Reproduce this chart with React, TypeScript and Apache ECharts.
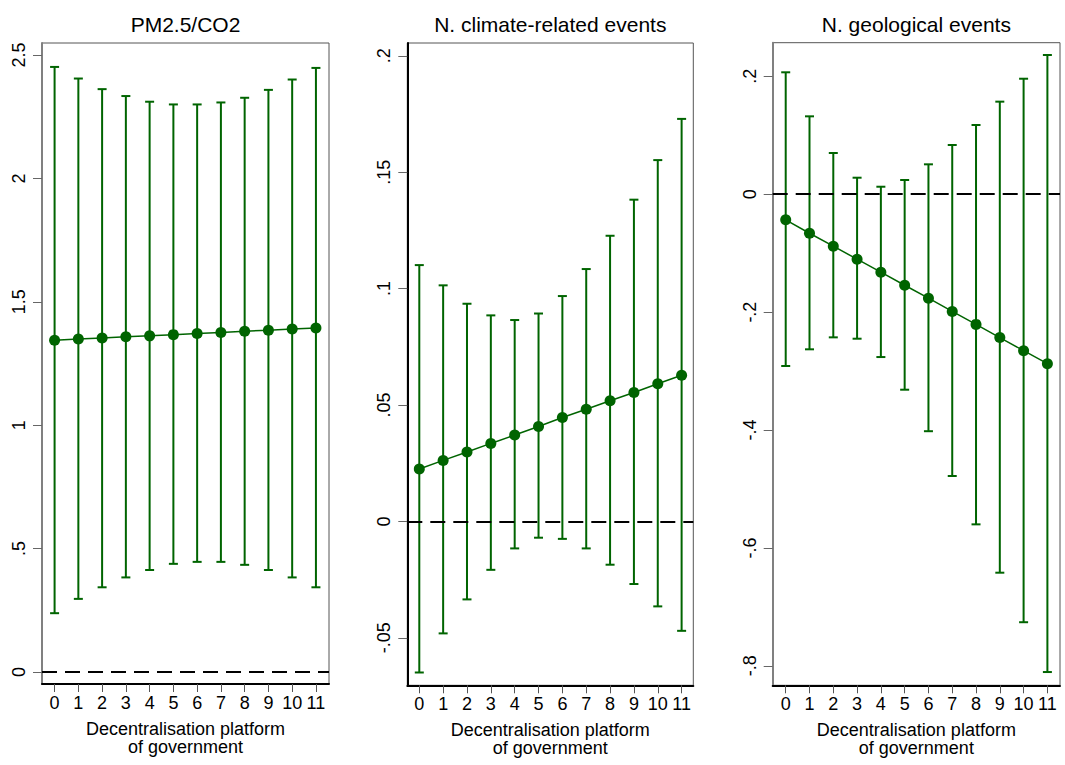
import React, { useEffect, useRef } from "react";
import * as echarts from "echarts";

const platforms = [0, 1, 2, 3, 4, 5, 6, 7, 8, 9, 10, 11];

const titles = ["PM2.5/CO2", "N. climate-related events", "N. geological events"];

const pmEst = [1.344, 1.349, 1.353, 1.358, 1.362, 1.367, 1.372, 1.376, 1.381, 1.385, 1.390, 1.394];
const pmHi = [2.452, 2.405, 2.362, 2.334, 2.311, 2.300, 2.300, 2.308, 2.327, 2.359, 2.401, 2.448];
const pmLo = [0.238, 0.296, 0.343, 0.383, 0.413, 0.438, 0.446, 0.446, 0.434, 0.413, 0.383, 0.343];

const clEst = [0.0225, 0.0262, 0.0298, 0.0335, 0.0371, 0.0408, 0.0446, 0.0482, 0.0518, 0.0554, 0.0591, 0.0628];
const clHi = [0.1101, 0.1014, 0.0935, 0.0885, 0.0865, 0.0893, 0.0968, 0.1084, 0.1227, 0.1382, 0.1552, 0.1729];
const clLo = [-0.0649, -0.0481, -0.0335, -0.0208, -0.0116, -0.007, -0.0075, -0.0116, -0.0186, -0.0269, -0.0365, -0.047];

const geoEst = [-0.0435, -0.0662, -0.0882, -0.1102, -0.1323, -0.1544, -0.1764, -0.1988, -0.2208, -0.2432, -0.2654, -0.2875];
const geoHi = [0.2068, 0.1321, 0.0699, 0.028, 0.0127, 0.0241, 0.0507, 0.0835, 0.1174, 0.157, 0.1959, 0.2361];
const geoLo = [-0.2914, -0.2631, -0.2428, -0.2451, -0.2762, -0.3316, -0.402, -0.478, -0.56, -0.642, -0.726, -0.8105];

const yTicks1 = [0, 0.5, 1, 1.5, 2, 2.5];
const yLabels1 = ["0", ".5", "1", "1.5", "2", "2.5"];
const yTicks2 = [-0.05, 0, 0.05, 0.1, 0.15, 0.2];
const yLabels2 = ["-.05", "0", ".05", ".1", ".15", ".2"];
const yTicks3 = [-0.8, -0.6, -0.4, -0.2, 0, 0.2];
const yLabels3 = ["-.8", "-.6", "-.4", "-.2", "0", ".2"];

const xTitle = "Decentralisation platform\nof government";

const GREEN = "#006400";
const FONT = "'Liberation Sans', Arial, Helvetica, sans-serif";

export default function App() {
  const ref = useRef<HTMLDivElement>(null);

  useEffect(() => {
    if (!ref.current) return;
    const chart = echarts.init(ref.current, undefined, { renderer: "svg" });

    const panels = [
      { est: pmEst, hi: pmHi, lo: pmLo, ticks: yTicks1, labels: yLabels1,
        grid: { left: 42, top: 43, width: 287, height: 641 },
        xMin: -0.53, xMax: 11.55, yMin: -0.049, yMax: 2.549, yLine: "#808080" },
      { est: clEst, hi: clHi, lo: clLo, ticks: yTicks2, labels: yLabels2,
        grid: { left: 407.3, top: 43, width: 286, height: 642.3 },
        xMin: -0.503, xMax: 11.49, yMin: -0.0704, yMax: 0.2055, yLine: "#000" },
      { est: geoEst, hi: geoHi, lo: geoLo, ticks: yTicks3, labels: yLabels3,
        grid: { left: 772.7, top: 42.7, width: 287.3, height: 642.6 },
        xMin: -0.547, xMax: 11.53, yMin: -0.833, yMax: 0.257, yLine: "#808080" },
    ];

    const grids: any[] = [];
    const xAxes: any[] = [];
    const yAxes: any[] = [];
    const series: any[] = [];
    const titleOpts: any[] = [];

    panels.forEach((p, i) => {
      grids.push({ ...p.grid, show: true, borderColor: "#555", borderWidth: 1, backgroundColor: "#fff" });
      titleOpts.push({
        text: titles[i],
        left: p.grid.left + p.grid.width / 2,
        top: 14,
        textAlign: "center",
        padding: 0,
        textStyle: { fontSize: 21, fontWeight: "normal", color: "#000", fontFamily: FONT },
      });
      xAxes.push({
        gridIndex: i,
        type: "value",
        min: p.xMin,
        max: p.xMax,
        name: xTitle,
        nameLocation: "middle",
        nameGap: 36,
        nameTextStyle: { fontSize: 18, color: "#000", fontFamily: FONT, lineHeight: 18, verticalAlign: "top" },
        axisLine: { show: true, onZero: false, lineStyle: { color: "#000", width: 2 } },
        axisTick: { show: true, length: 8, customValues: platforms, lineStyle: { color: "#555", width: 1 } },
        axisLabel: { customValues: platforms, margin: 10, fontSize: 18, color: "#000", fontFamily: FONT, formatter: (v: number) => String(v) },
        splitLine: { show: false },
      });
      yAxes.push({
        gridIndex: i,
        type: "value",
        min: p.yMin,
        max: p.yMax,
        axisLine: { show: true, onZero: false, lineStyle: { color: p.yLine, width: 2 } },
        axisTick: { show: true, length: 9, customValues: p.ticks, lineStyle: { color: "#666", width: 1 } },
        axisLabel: {
          customValues: p.ticks,
          rotate: 90,
          margin: 14,
          fontSize: 18,
          color: "#000",
          fontFamily: FONT,
          formatter: (v: number) => {
            const k = p.ticks.findIndex((t) => Math.abs(t - v) < 1e-9);
            return k >= 0 ? p.labels[k] : "";
          },
        },
        splitLine: { show: false },
      });

      series.push({
        type: "custom",
        xAxisIndex: i,
        yAxisIndex: i,
        encode: { x: 0, y: [1, 2] },
        data: platforms.map((x, k) => [x, p.lo[k], p.hi[k]]),
        renderItem: (params: any, api: any) => {
          const x = api.value(0);
          const lo = api.coord([x, api.value(1)]);
          const hi = api.coord([x, api.value(2)]);
          const hw = 4.5;
          const st = { stroke: GREEN, lineWidth: 2 };
          return {
            type: "group",
            children: [
              { type: "line", shape: { x1: lo[0], y1: lo[1], x2: hi[0], y2: hi[1] }, style: st },
              { type: "line", shape: { x1: lo[0] - hw, y1: lo[1], x2: lo[0] + hw, y2: lo[1] }, style: st },
              { type: "line", shape: { x1: hi[0] - hw, y1: hi[1], x2: hi[0] + hw, y2: hi[1] }, style: st },
            ],
          };
        },
        markLine: {
          silent: true,
          symbol: "none",
          label: { show: false },
          lineStyle: { color: "#000", width: 2, type: [15, 8] },
          data: [{ yAxis: 0 }],
        },
        z: 2,
      });

      series.push({
        type: "line",
        xAxisIndex: i,
        yAxisIndex: i,
        data: platforms.map((x, k) => [x, p.est[k]]),
        symbol: "circle",
        symbolSize: 11,
        itemStyle: { color: GREEN },
        lineStyle: { color: GREEN, width: 1.5 },
        z: 3,
      });
    });

    chart.setOption({
      animation: false,
      backgroundColor: "#fff",
      title: titleOpts,
      grid: grids,
      xAxis: xAxes,
      yAxis: yAxes,
      series,
    });

    return () => chart.dispose();
  }, []);

  return (
    <div
      ref={ref}
      style={{ position: "absolute", left: 0, top: 0, width: 1065, height: 765, background: "#fff" }}
    />
  );
}
